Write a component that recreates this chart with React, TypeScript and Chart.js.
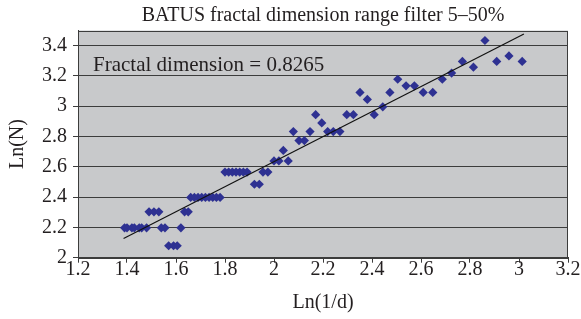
import React, { useEffect, useRef } from "react";
import { Chart, registerables } from "chart.js";

Chart.register(...registerables);

const chartTitle = "BATUS fractal dimension range filter 5–50%";
const xAxisTitle = "Ln(1/d)";
const yAxisTitle = "Ln(N)";
const annotationText = "Fractal dimension = 0.8265";

// Ln(1/d) values
const lnInvD = [
  1.39, 1.40, 1.42, 1.43, 1.45, 1.46, 1.48, 1.49, 1.51, 1.53,
  1.54, 1.555, 1.57, 1.59, 1.605, 1.62, 1.635, 1.65, 1.66, 1.675,
  1.69, 1.705, 1.72, 1.735, 1.75, 1.765, 1.78, 1.80, 1.815, 1.83,
  1.845, 1.86, 1.875, 1.89, 1.92, 1.94, 1.955, 1.975, 2.00, 2.02,
  2.038, 2.058, 2.079, 2.102, 2.124, 2.147, 2.170, 2.195, 2.219, 2.242,
  2.269, 2.297, 2.324, 2.351, 2.381, 2.409, 2.444, 2.473, 2.505, 2.539,
  2.573, 2.609, 2.648, 2.687, 2.725, 2.769, 2.814, 2.861, 2.909, 2.959,
  3.013,
];

// Ln(N) values
const lnN = [
  2.197, 2.197, 2.197, 2.197, 2.197, 2.197, 2.197, 2.303, 2.303, 2.303,
  2.197, 2.197, 2.079, 2.079, 2.079, 2.197, 2.303, 2.303, 2.398, 2.398,
  2.398, 2.398, 2.398, 2.398, 2.398, 2.398, 2.398, 2.565, 2.565, 2.565,
  2.565, 2.565, 2.565, 2.565, 2.485, 2.485, 2.565, 2.565, 2.639, 2.639,
  2.708, 2.639, 2.833, 2.773, 2.773, 2.833, 2.944, 2.890, 2.833, 2.833,
  2.833, 2.944, 2.944, 3.091, 3.045, 2.944, 2.996, 3.091, 3.178, 3.135,
  3.135, 3.091, 3.091, 3.178, 3.219, 3.296, 3.258, 3.434, 3.296, 3.332,
  3.296,
];

// Trend line end points
const trendX = [1.386, 3.02];
const trendY = [2.127, 3.477];

const xTicks = [1.2, 1.4, 1.6, 1.8, 2.0, 2.2, 2.4, 2.6, 2.8, 3.0, 3.2];
const yTicks = [2.0, 2.2, 2.4, 2.6, 2.8, 3.0, 3.2, 3.4];

const FONT = "'Liberation Serif', 'DejaVu Serif', serif";
const TEXT = "#231f20";
const GRID = "#3c3c3c";
const PLOT_BG = "#c8c9cb";
const MARKER = "#2e3192";

const fmt = (v: number) => String(Number(v.toFixed(1)));

const framePlugin = {
  id: "frame",
  beforeDraw(chart: any) {
    const { ctx, chartArea } = chart;
    const { left, top, right, bottom } = chartArea;
    ctx.save();
    ctx.fillStyle = PLOT_BG;
    ctx.fillRect(left, top, right - left, bottom - top);
    ctx.restore();
  },
  beforeDatasetsDraw(chart: any) {
    const { ctx, chartArea } = chart;
    const { left, top, right, bottom } = chartArea;
    ctx.save();
    ctx.strokeStyle = GRID;
    ctx.lineWidth = 1;
    ctx.strokeRect(Math.round(left) + 0.5, Math.round(top) + 0.5, Math.round(right - left) - 1, Math.round(bottom - top));
    ctx.fillStyle = TEXT;
    ctx.font = `21px ${FONT}`;
    ctx.textAlign = "left";
    ctx.textBaseline = "alphabetic";
    ctx.fillText(annotationText, left + 15, top + 40);
    ctx.restore();
  },
};

export default function App() {
  const ref = useRef<HTMLCanvasElement | null>(null);

  useEffect(() => {
    document.body.style.margin = "0";
    const canvas = ref.current;
    if (!canvas) return;
    const points = lnInvD.map((x, i) => ({ x, y: lnN[i] }));
    const trend = trendX.map((x, i) => ({ x, y: trendY[i] }));

    const chart = new Chart(canvas, {
      type: "scatter",
      data: {
        datasets: [
          {
            label: "trend",
            data: trend,
            showLine: true,
            borderColor: "#111",
            borderWidth: 1.2,
            pointRadius: 0,
            order: 0,
          },
          {
            label: "Ln(N)",
            data: points,
            pointStyle: "rectRot",
            pointRadius: 4.6,
            pointBackgroundColor: MARKER,
            pointBorderColor: MARKER,
            pointBorderWidth: 0,
            showLine: false,
            order: 1,
          },
        ],
      },
      options: {
        animation: false,
        responsive: false,
        devicePixelRatio: 1,
        layout: { padding: { left: 0, right: 13, top: 0, bottom: 0 } },
        plugins: {
          legend: { display: false },
          tooltip: { enabled: false },
          title: {
            display: true,
            text: chartTitle,
            fullSize: false,
            color: TEXT,
            font: { family: FONT, size: 20, weight: "normal", lineHeight: 1.2 },
            padding: { top: 4, bottom: 2.5 },
          },
        },
        scales: {
          x: {
            type: "linear",
            min: 1.2,
            max: 3.2,
            afterBuildTicks: (scale: any) => {
              scale.ticks = xTicks.map((v) => ({ value: v }));
            },
            afterFit: (scale: any) => {
              scale.height = 61.3;
            },
            grid: {
              drawOnChartArea: false,
              drawTicks: true,
              tickLength: 5,
              color: GRID,
            },
            border: { display: true, color: GRID, width: 1 },
            ticks: {
              color: TEXT,
              font: { family: FONT, size: 20, lineHeight: 1 },
              padding: -3,
              maxRotation: 0,
              autoSkip: false,
              callback: (v: any) => fmt(Number(v)),
            },
            title: {
              display: true,
              text: xAxisTitle,
              color: TEXT,
              font: { family: FONT, size: 20, lineHeight: 1.2 },
              padding: { top: 0, bottom: 4 },
            },
          },
          y: {
            type: "linear",
            min: 2,
            max: 3.5,
            afterBuildTicks: (scale: any) => {
              scale.ticks = yTicks.map((v) => ({ value: v }));
            },
            afterFit: (scale: any) => {
              scale.width = 78;
            },
            grid: {
              drawOnChartArea: true,
              drawTicks: true,
              tickLength: 5,
              color: GRID,
              lineWidth: 1,
            },
            border: { display: true, color: GRID, width: 1 },
            ticks: {
              color: TEXT,
              font: { family: FONT, size: 20 },
              padding: 6,
              autoSkip: false,
              callback: (v: any) => fmt(Number(v)),
            },
            title: {
              display: true,
              text: yAxisTitle,
              color: TEXT,
              font: { family: FONT, size: 20, lineHeight: 1.2 },
              padding: { top: 6, bottom: 0 },
            },
          },
        },
      },
      plugins: [framePlugin],
    });
    return () => chart.destroy();
  }, []);

  return (
    <div style={{ position: "absolute", left: 0, top: 0, width: 581, height: 319, background: "#fff" }}>
      <canvas ref={ref} width={581} height={319} style={{ display: "block", width: 581, height: 319 }} />
    </div>
  );
}
